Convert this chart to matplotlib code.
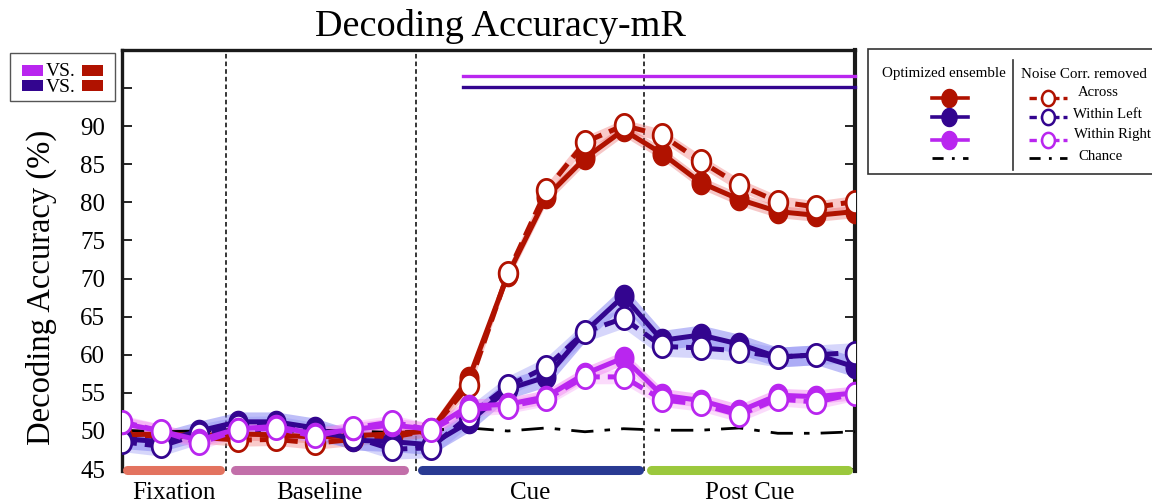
import numpy as np
import matplotlib
matplotlib.use("Agg")
import matplotlib.pyplot as plt
from matplotlib.path import Path
from matplotlib.patches import Rectangle
from matplotlib.lines import Line2D

# ---------------- data ----------------
time_idx = list(range(20))
across_opt = [49.5, 49.6, 49.4, 49.6, 49.5, 49.2, 49.4, 49.6, 50.0, 57.0, 70.5, 80.7, 85.8, 89.5, 86.4, 82.6, 80.4, 78.8, 78.3, 78.8]
across_nc = [49.3, 49.4, 49.2, 48.8, 48.9, 48.4, 48.9, 49.2, 50.1, 56.0, 70.7, 81.6, 87.9, 90.1, 88.8, 85.4, 82.3, 80.1, 79.4, 80.1]
left_opt = [49.0, 48.6, 50.0, 51.2, 51.2, 50.4, 48.8, 48.6, 48.2, 51.2, 55.5, 57.1, 63.0, 67.7, 61.9, 62.6, 61.4, 59.7, 60.0, 58.4]
left_nc = [48.6, 48.0, 49.6, 50.6, 50.7, 49.8, 49.2, 47.6, 47.8, 52.0, 55.9, 58.4, 63.0, 64.8, 61.1, 60.9, 60.5, 59.7, 60.0, 60.3]
right_opt = [51.0, 50.0, 48.8, 50.3, 50.6, 49.6, 50.2, 50.8, 50.2, 53.3, 53.5, 54.5, 57.5, 59.6, 54.7, 54.0, 52.6, 54.7, 54.5, 55.0]
right_nc = [51.2, 50.0, 48.4, 50.1, 50.4, 49.3, 50.4, 51.2, 50.1, 52.8, 53.2, 54.2, 57.1, 57.1, 54.1, 53.5, 52.1, 54.2, 53.8, 54.9]
chance = [50.1, 49.9, 50.0, 50.2, 49.9, 50.1, 50.0, 49.8, 50.1, 50.4, 50.0, 50.4, 49.9, 50.3, 50.1, 50.1, 50.4, 49.7, 49.7, 49.9]
err_across = 0.8
err_left = 1.3
err_right = 0.9

epoch_names = ["Fixation", "Baseline", "Cue", "Post Cue"]
epoch_start = [0.13, 2.93, 7.78, 13.71]
epoch_end = [2.54, 7.31, 13.40, 18.82]
epoch_colors = ["#e3735f", "#c26fa9", "#293a92", "#9bc83d"]
epoch_bounds = [2.70, 7.62, 13.53]

sig_right = (8.85, 19.0, 96.56)
sig_left = (8.85, 19.0, 95.1)

yticks = [45, 50, 55, 60, 65, 70, 75, 80, 85, 90, 95]

RED = "#b01200"
BLUE = "#33058f"
PURPLE = "#b926ef"

plt.rcParams['font.family'] = ['Liberation Serif', 'DejaVu Serif']

W, H = 1152, 503
fig = plt.figure(figsize=(W / 100, H / 100), dpi=100)

def fx(x):
    return x / W

def fy(y):
    return 1 - y / H

ax_l, ax_r, ax_t, ax_b = 122, 855, 50, 471
ax = fig.add_axes([fx(ax_l), fy(ax_b), fx(ax_r - ax_l), (ax_b - ax_t) / H])
ax.set_xlim(0, 19)
ax.set_ylim(44.75, 100)

# ellipse marker (taller than wide)
t = np.linspace(0, 2 * np.pi, 60)
ell = Path(np.column_stack([0.42 * np.cos(t), 0.5 * np.sin(t)]), closed=True)

x = np.array(time_idx)

def band(y, err, color, alpha):
    y = np.array(y)
    ax.fill_between(x, y - err, y + err, color=color, alpha=alpha, lw=0, zorder=2)

band(across_nc, err_across, "#f28a8a", 0.45)
band(across_opt, err_across, "#e86060", 0.35)
band(left_opt, err_left, "#6f6ff0", 0.45)
band(left_nc, err_left, "#8c8cf5", 0.35)
band(right_opt, err_right, "#f07af0", 0.45)
band(right_nc, err_right, "#f59af5", 0.35)

# chance
ax.plot(x, chance, color="black", lw=2.0, ls=(0, (8, 4, 2, 4)), zorder=3)

def series(opt, nc, color, z):
    ax.plot(x, opt, color=color, lw=3.6, marker=ell, ms=16, mfc=color, mec=color, zorder=z)
    ax.plot(x, nc, color=color, lw=3.6, ls=(0, (3, 1.6)), marker=ell, ms=16, mfc="white",
            mec=color, mew=2.0, zorder=z + 0.5)

series(across_opt, across_nc, RED, 4)
series(left_opt, left_nc, BLUE, 5)
series(right_opt, right_nc, PURPLE, 6)

# epoch boundaries
for b in epoch_bounds:
    ax.axvline(b, color="black", lw=1.1, ls=(0, (3, 2)), zorder=1)

# significance lines
ax.plot([sig_right[0], sig_right[1]], [sig_right[2]] * 2, color=PURPLE, lw=2.4, zorder=3, clip_on=False)
ax.plot([sig_left[0], sig_left[1]], [sig_left[2]] * 2, color=BLUE, lw=2.4, zorder=3, clip_on=False)

# epoch bars
for s, e, c, n in zip(epoch_start, epoch_end, epoch_colors, epoch_names):
    ax.plot([s, e], [44.9, 44.9], color=c, lw=6.5, solid_capstyle="round", clip_on=False, zorder=7)
    ax.text((s + e) / 2, 41.9, n, ha="center", va="center", fontsize=18)

# axes styling
for side in ["left", "right", "top"]:
    ax.spines[side].set_linewidth(2.4)
    ax.spines[side].set_color("#1a1a1a")
ax.spines["right"].set_linewidth(3.0)
ax.spines["bottom"].set_visible(False)
ax.set_xticks([])
ax.set_yticks(yticks)
ax.tick_params(axis="y", direction="in", length=7, width=1.2, labelsize=18, pad=12,
               right=True, left=True)
ax.set_ylabel("Decoding Accuracy (%)", fontsize=23.5)
ax.yaxis.set_label_coords(-0.088, 0.435)
fig.text(fx(500), fy(27), "Decoding Accuracy-mR", fontsize=27.5, ha="center", va="center")

# ---------------- top-left legend ----------------
fig.add_artist(Rectangle((fx(10), fy(101)), fx(105), (101 - 53) / H, transform=fig.transFigure,
                         facecolor="white", edgecolor="#555555", lw=1.0, zorder=20))
for yy, c in [(70, PURPLE), (86, BLUE)]:
    fig.add_artist(Rectangle((fx(22), fy(yy + 5.5)), fx(21), 11 / H, transform=fig.transFigure,
                             facecolor=c, edgecolor="none", zorder=21))
    fig.add_artist(Rectangle((fx(82), fy(yy + 5.5)), fx(21), 11 / H, transform=fig.transFigure,
                             facecolor=RED, edgecolor="none", zorder=21))
    fig.text(fx(46), fy(yy + 1), "VS.", fontsize=14, va="center", ha="left", zorder=22)

# ---------------- right legend ----------------
fig.add_artist(Rectangle((fx(868), fy(174)), fx(300), (174 - 49) / H, transform=fig.transFigure,
                         facecolor="white", edgecolor="#333333", lw=1.2, zorder=20, clip_on=False))
fig.add_artist(Line2D([fx(1013), fx(1013)], [fy(60), fy(170)], transform=fig.transFigure,
                      color="#333333", lw=1.2, zorder=21))
fig.text(fx(944), fy(74), "Optimized ensemble", fontsize=10.8, ha="center", va="center", zorder=22)
fig.text(fx(1021), fy(74), "Noise Corr. removed", fontsize=10.8, ha="left", va="center", zorder=22)

leg_rows = [98, 117, 140, 158]
leg_colors = [RED, BLUE, PURPLE]
leg_labels = ["Across", "Within Left", "Within Right", "Chance"]
label_y = [93, 114, 134, 157]
label_x = [1078, 1073, 1074, 1078]
for i, c in enumerate(leg_colors):
    yy = leg_rows[i]
    fig.add_artist(Line2D([fx(932), fx(949), fx(968)], [fy(yy)] * 3, transform=fig.transFigure,
                          color=c, lw=2.6, marker=ell, ms=13, markevery=[1], mfc=c, mec=c, zorder=22))
    fig.add_artist(Line2D([fx(1029), fx(1048), fx(1067)], [fy(yy)] * 3, transform=fig.transFigure,
                          color=c, lw=2.4, ls=(0, (2.2, 1.2)), marker=ell, ms=11, markevery=[1],
                          mfc="white", mec=c, mew=1.8, zorder=22))
fig.add_artist(Line2D([fx(932), fx(968)], [fy(158)] * 2, transform=fig.transFigure,
                      color="black", lw=2.0, ls=(0, (4, 3, 1, 3)), zorder=22))
fig.add_artist(Line2D([fx(1029), fx(1067)], [fy(158)] * 2, transform=fig.transFigure,
                      color="black", lw=2.0, ls=(0, (4, 3, 1, 3)), zorder=22))
for lab, lx, ly in zip(leg_labels, label_x, label_y):
    fig.text(fx(lx), fy(ly), lab, fontsize=10.6, ha="left", va="center", zorder=22)

fig.savefig("out.png", dpi=100)
